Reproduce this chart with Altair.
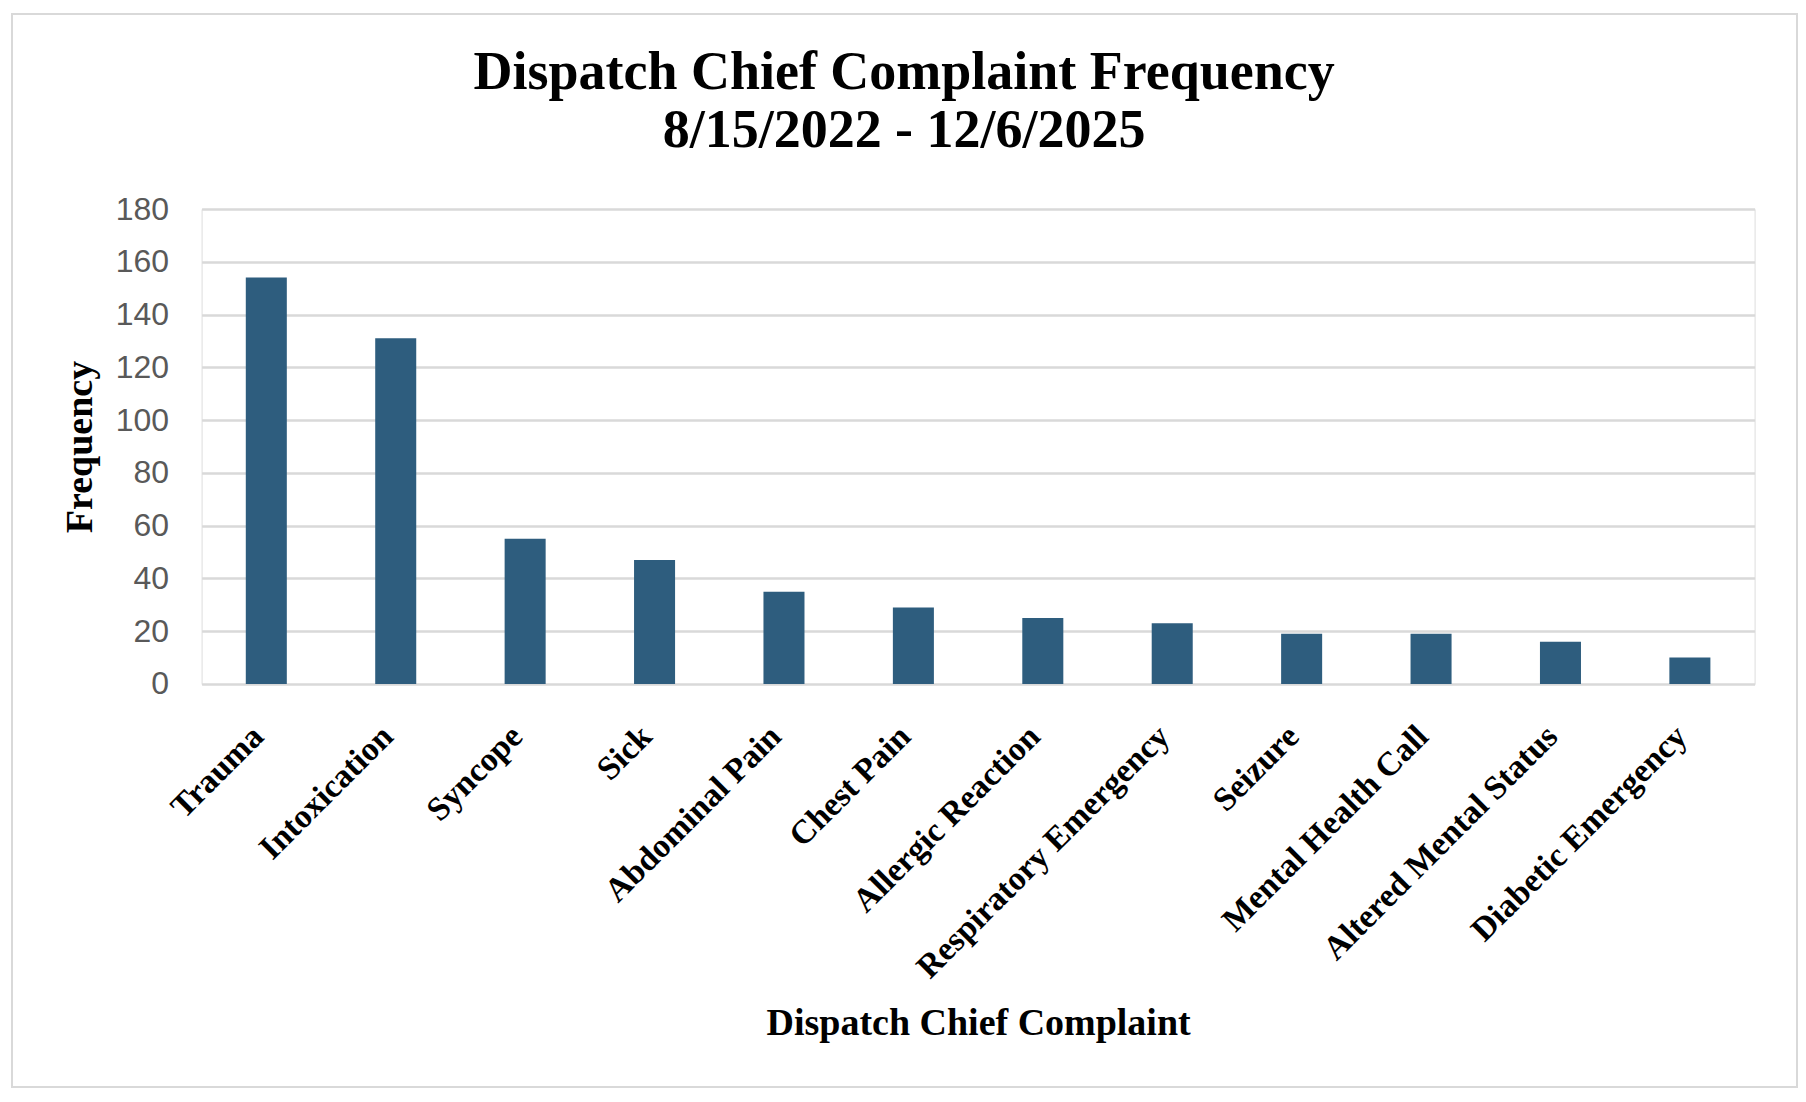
import altair as alt
import pandas as pd

categories = [
    "Trauma", "Intoxication", "Syncope", "Sick", "Abdominal Pain", "Chest Pain",
    "Allergic Reaction", "Respiratory Emergency", "Seizure", "Mental Health Call",
    "Altered Mental Status", "Diabetic Emergency",
]
frequencies = [154, 131, 55, 47, 35, 29, 25, 23, 19, 19, 16, 10]
y_ticks = [0, 20, 40, 60, 80, 100, 120, 140, 160, 180]
title_lines = ["Dispatch Chief Complaint Frequency", "8/15/2022 - 12/6/2025"]

df = pd.DataFrame({"complaint": categories, "freq": frequencies})

SERIF = "Liberation Serif"
SANS = "Liberation Sans"
W, H = 1553, 475

bars = alt.Chart(df).mark_bar(color="#2E5D7E").encode(
    x=alt.X(
        "complaint:N",
        sort=categories,
        scale=alt.Scale(paddingInner=0.683, paddingOuter=0.3415),
        axis=alt.Axis(
            title="Dispatch Chief Complaint",
            titleFont=SERIF, titleFontSize=38, titleFontWeight="bold", titleColor="black",
            titleX=W / 2, titleY=351, titleAlign="center", titleBaseline="alphabetic",
            labelFont=SERIF, labelFontSize=33.5, labelFontWeight="bold", labelColor="black",
            labelAngle=-45, labelAlign="right", labelBaseline="middle",
            labelPadding=47, labelOffset=-8, labelLimit=0,
            ticks=False, tickSize=0, domain=False, grid=False,
        ),
    ),
    y=alt.Y(
        "freq:Q",
        scale=alt.Scale(domain=[0, 180], nice=False),
        axis=alt.Axis(
            title="Frequency",
            titleFont=SERIF, titleFontSize=38, titleFontWeight="bold", titleColor="black",
            titleX=-110, titleY=H / 2, titleAlign="center", titleBaseline="alphabetic",
            titleAngle=270,
            labelFont=SANS, labelFontSize=32, labelColor="#595959", labelPadding=33,
            values=y_ticks, ticks=False, tickSize=0, domain=False,
            grid=True, gridColor="#d9d9d9", gridWidth=2.5,
        ),
    ),
)

border = alt.Chart(alt.Data(values=[{}])).mark_rect(
    fill="white", fillOpacity=0, stroke="#d9d9d9", strokeWidth=2, clip=False
).encode(
    x=alt.value(-189.6), x2=alt.value(1595.4), y=alt.value(-195), y2=alt.value(878)
)

chart = alt.layer(border, bars).properties(
    width=W,
    height=H,
    title=alt.TitleParams(
        text=title_lines, font=SERIF, fontSize=54, fontWeight="bold", color="black",
        anchor="middle", dx=-74, lineHeight=58, offset=-145,
    ),
    autosize=alt.AutoSizeParams(type="none"),
    padding={"left": 193.6, "top": 201, "right": 43, "bottom": 404},
).configure_view(stroke=None).configure(background="white")

chart.save("out.html", embed_options={"renderer": "svg", "actions": False})
